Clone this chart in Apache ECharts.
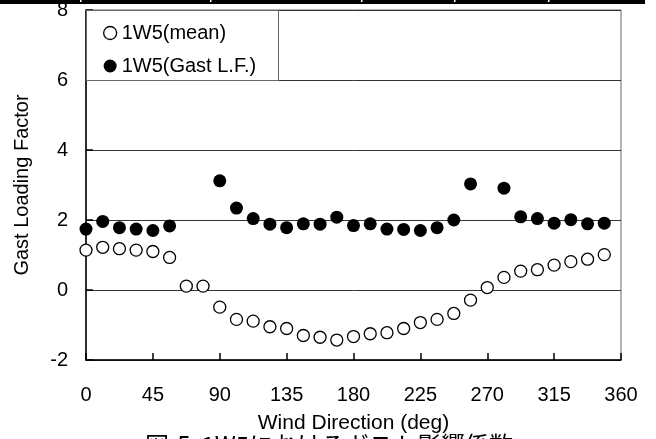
<!DOCTYPE html>
<html>
<head>
<meta charset="utf-8">
<script src="https://cdn.jsdelivr.net/npm/echarts@6/dist/echarts.min.js"></script>
<style>
  html, body { margin: 0; padding: 0; background: #fff; }
  #main { width: 656px; height: 439px; }
</style>
</head>
<body>
<div id="main"></div>
<script>
// wind directions every 11.25 deg
var directions = [0, 11.25, 22.5, 33.75, 45, 56.25, 67.5, 78.75, 90, 101.25, 112.5, 123.75,
    135, 146.25, 157.5, 168.75, 180, 191.25, 202.5, 213.75, 225, 236.25, 247.5, 258.75,
    270, 281.25, 292.5, 303.75, 315, 326.25, 337.5, 348.75];

var meanValues = [1.14, 1.22, 1.18, 1.14, 1.10, 0.93, 0.11, 0.11, -0.49, -0.84, -0.89, -1.05,
    -1.10, -1.30, -1.35, -1.43, -1.33, -1.25, -1.22, -1.10, -0.93, -0.84, -0.67, -0.29,
    0.07, 0.36, 0.54, 0.58, 0.71, 0.81, 0.88, 1.01];

var gastValues = [1.74, 1.96, 1.78, 1.74, 1.70, 1.83, null, null, 3.12, 2.34, 2.04, 1.88,
    1.78, 1.89, 1.88, 2.08, 1.84, 1.89, 1.74, 1.73, 1.70, 1.78, 2.00, 3.03,
    null, 2.91, 2.09, 2.04, 1.91, 2.01, 1.89, 1.91];

var xTicks = [0, 45, 90, 135, 180, 225, 270, 315, 360];
var yTicks = [-2, 0, 2, 4, 6, 8];

var seriesNames = ['1W5(mean)', '1W5(Gast L.F.)'];

function pairs(vals) {
    var out = [];
    for (var i = 0; i < directions.length; i++) {
        if (vals[i] !== null) out.push([directions[i], vals[i]]);
    }
    return out;
}

var chartDom = document.getElementById('main');
var myChart = echarts.init(chartDom, null, { renderer: 'canvas' });
var font = 'Liberation Sans, Arial, sans-serif';

var option = {
    animation: false,
    backgroundColor: '#fff',
    textStyle: { fontFamily: font },
    grid: {
        left: 86, right: 35, top: 10, bottom: 79,
        show: true, borderColor: '#666', borderWidth: 1
    },
    graphic: [
        // cropped table edge at the top
        { type: 'rect', z: 1, shape: { x: 0, y: 0, width: 645, height: 4 }, style: { fill: '#000' } },
        { type: 'rect', z: 2, shape: { x: 80, y: 0, width: 1.5, height: 2 }, style: { fill: '#fff' } },
        { type: 'rect', z: 2, shape: { x: 210, y: 0, width: 1.5, height: 2 }, style: { fill: '#fff' } },
        { type: 'rect', z: 2, shape: { x: 361, y: 0, width: 1.5, height: 2 }, style: { fill: '#fff' } },
        { type: 'rect', z: 2, shape: { x: 454, y: 0, width: 1.5, height: 2 }, style: { fill: '#fff' } },
        { type: 'rect', z: 2, shape: { x: 548, y: 0, width: 1.5, height: 2 }, style: { fill: '#fff' } },
        // legend frame
        { type: 'rect', z: 3, shape: { x: 86.5, y: 10.5, width: 192, height: 70 },
          style: { fill: '#fff', stroke: '#666', lineWidth: 1 } },
        // clipped caption at the bottom
        { type: 'text', z: 3, left: 145, top: 433,
          style: { text: '図-5  1W5におけるガスト影響係数', fill: '#000',
                   font: '24px "Noto Sans CJK JP", sans-serif' } }
    ],
    legend: {
        orient: 'vertical',
        left: 98, top: 18,
        z: 10,
        itemWidth: 13, itemHeight: 13,
        itemGap: 13,
        textStyle: { fontSize: 20, color: '#000', fontFamily: font, lineHeight: 20 },
        data: [
            { name: seriesNames[0], icon: 'circle',
              itemStyle: { color: '#fff', borderColor: '#000', borderWidth: 1.3 } },
            { name: seriesNames[1], icon: 'circle' }
        ]
    },
    xAxis: {
        type: 'value',
        min: 0, max: 360, interval: 45,
        name: 'Wind Direction (deg)',
        nameLocation: 'middle',
        nameGap: 53,
        nameTextStyle: { fontSize: 21, color: '#000', fontFamily: font },
        axisLine: { show: true, onZero: false, lineStyle: { color: '#000', width: 1.5 } },
        axisTick: { show: true, inside: true, length: 7, lineStyle: { color: '#000', width: 1.5 } },
        axisLabel: {
            fontSize: 20, color: '#000', margin: 25,
            formatter: function (v) { return xTicks.indexOf(v) >= 0 ? String(v) : ''; }
        },
        splitLine: { show: false }
    },
    yAxis: {
        type: 'value',
        min: -2, max: 8, interval: 2,
        name: 'Gast Loading Factor',
        nameLocation: 'middle',
        nameGap: 54,
        nameRotate: 90,
        nameTextStyle: { fontSize: 20, color: '#000', fontFamily: font },
        axisLine: { show: true, onZero: false, lineStyle: { color: '#000', width: 1.5 } },
        axisTick: { show: true, inside: true, length: 7, lineStyle: { color: '#000', width: 1.5 } },
        axisLabel: {
            fontSize: 20, color: '#000', margin: 18,
            formatter: function (v) { return yTicks.indexOf(v) >= 0 ? String(v) : ''; }
        },
        splitLine: { show: true, lineStyle: { color: '#333', width: 1 } }
    },
    series: [
        {
            name: seriesNames[0],
            type: 'scatter',
            symbol: 'circle',
            symbolSize: 12,
            itemStyle: { color: '#fff', borderColor: '#000', borderWidth: 1.3, opacity: 1 },
            data: pairs(meanValues)
        },
        {
            name: seriesNames[1],
            type: 'scatter',
            symbol: 'circle',
            symbolSize: 13,
            itemStyle: { color: '#000', opacity: 1 },
            data: pairs(gastValues)
        }
    ]
};

option && myChart.setOption(option);
</script>
</body>
</html>
